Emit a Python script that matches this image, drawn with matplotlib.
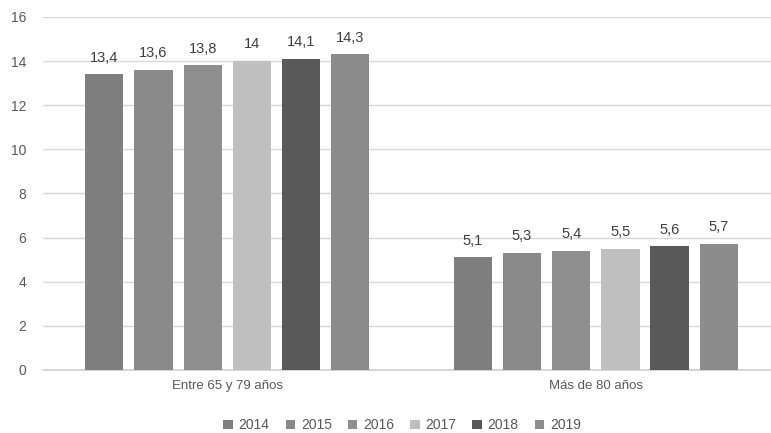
import numpy as np
import matplotlib
matplotlib.use("Agg")
import matplotlib.pyplot as plt

plt.rcParams["font.family"] = ["Liberation Sans", "DejaVu Sans"]

categories = ["Entre 65 y 79 años", "Más de 80 años"]
years = ["2014", "2015", "2016", "2017", "2018", "2019"]
values = {
    "2014": [13.4, 5.1],
    "2015": [13.6, 5.3],
    "2016": [13.8, 5.4],
    "2017": [14.0, 5.5],
    "2018": [14.1, 5.6],
    "2019": [14.3, 5.7],
}
labels = {
    "2014": ["13,4", "5,1"],
    "2015": ["13,6", "5,3"],
    "2016": ["13,8", "5,4"],
    "2017": ["14", "5,5"],
    "2018": ["14,1", "5,6"],
    "2019": ["14,3", "5,7"],
}
colors = ["#7f7f7f", "#8a8a8a", "#8e8e8e", "#bfbfbf", "#595959", "#8c8c8c"]

TXT = "#595959"

fig = plt.figure(figsize=(7.71, 4.33), dpi=100)
ax = fig.add_axes([0.0558, 0.1455, 0.956, 0.8155])

x = np.arange(len(categories))
width = 0.104
pitch = 0.1335
for i, yr in enumerate(years):
    pos = x + (i - 2.5) * pitch
    bars = ax.bar(pos, values[yr], width, color=colors[i], label=yr, zorder=3)
    for b, lab in zip(bars, labels[yr]):
        ax.annotate(lab, xy=(b.get_x() + b.get_width() / 2, b.get_height()),
                    xytext=(0, 7), textcoords="offset points",
                    ha="center", va="bottom", fontsize=10.5, color="#404040")

ax.set_xlim(-0.5, 1.5)
ax.set_ylim(0, 16)
ax.set_yticks(range(0, 17, 2))
ax.set_xticks(x)
ax.set_xticklabels(categories, fontsize=9.5, color=TXT)
ax.tick_params(axis="y", labelsize=10, labelcolor=TXT, length=0, pad=12)
ax.tick_params(axis="x", length=0, pad=7)
ax.grid(axis="y", color="#d9d9d9", linewidth=1.0, zorder=0)
for s in ["top", "right", "left"]:
    ax.spines[s].set_visible(False)
ax.spines["bottom"].set_color("#d0d0d0")
ax.spines["bottom"].set_linewidth(1.2)

ax.legend(loc="upper center", bbox_to_anchor=(0.487, -0.113), ncol=6,
          frameon=False, fontsize=10, labelcolor=TXT, handlelength=0.7,
          handleheight=0.7, handletextpad=0.4, columnspacing=1.15,
          borderaxespad=0.2)

fig.savefig("out.png", dpi=100)
